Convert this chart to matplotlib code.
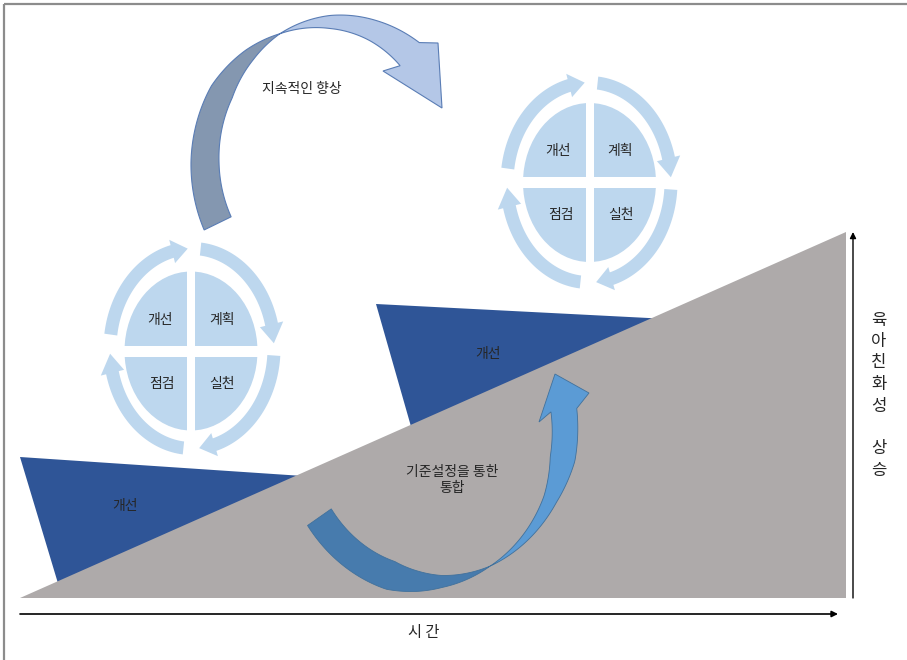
import numpy as np
import matplotlib
matplotlib.use("Agg")
import matplotlib.pyplot as plt
from matplotlib.patches import Polygon, Ellipse, Rectangle

plt.rcParams['font.family'] = ['Noto Sans CJK KR', 'DejaVu Sans']

# ---------------- content ----------------
pdca_labels = ["개선", "계획", "점검", "실천"]
wedge_label = "개선"
top_arrow_label = "지속적인 향상"
bottom_arrow_label = "기준설정을 통한\n통합"
x_axis_label = "시 간"
y_axis_chars = ["육", "아", "친", "화", "성", "", "상", "승"]

# ---------------- geometry (pixel space, y down) ----------------
W, H = 907, 660
ramp = [(20, 598), (846, 598), (846, 232)]
wedge1 = [(20, 457), (318, 477), (60, 590)]
wedge2 = [(376, 304), (668, 319), (412, 430)]

pdca_centers = [(191, 351), (589.5, 182.5)]
pdca_size = (133, 159)
ring_centers = [(192, 348.5), (589, 182.5)]
ring_r = (82, 100)
ring_spans = [(172, 93), (84, 3), (-4, -85), (-96, -177)]

# top curved arrow: ellipse centre line, angles (deg), widths
top_ell = (330, 162, 125, 140)
top_dark_t = [206, 180, 150, 130, 113.6]
top_dark_w = [30, 28, 24, 12, 0]
top_light_t = [113.6, 90, 70, 50.4]
top_light_w = [0, 13, 21, 30]
top_head = [(438, 43), (442, 108), (383, 71)]

# bottom curved arrow
bot_ell = (430, 430, 135, 152)
bot_dark_t = [-145, -107, -95, -85, -63.5]
bot_dark_w = [29, 29, 20, 12, 0]
bot_light_t = [-63.5, -27, -11, 7.5]
bot_light_w = [0, 14, 25, 26]
bot_head = [(589, 393), (555, 374), (539, 422)]

# colours
C_RAMP = "#AEAAAA"
C_WEDGE = "#2F5597"
C_PDCA = "#BDD7EE"
C_TOP_DARK = "#8497B0"
C_TOP_LIGHT = "#B4C7E7"
C_TOP_EDGE = "#5A7DB5"
C_BOT_DARK = "#477BAD"
C_BOT_LIGHT = "#5B9BD5"
C_BOT_EDGE = "#41719C"
C_TEXT = "#262626"


def ribbon(ell, tk, wk, head=None, n=80):
    cx, cy, rx, ry = ell
    ts = np.linspace(tk[0], tk[-1], n)
    order = np.argsort(tk)
    ws = np.interp(ts, np.array(tk)[order], np.array(wk)[order])
    tr = np.radians(ts)
    ox = cx + (rx + ws / 2) * np.cos(tr)
    oy = cy - (ry + ws / 2) * np.sin(tr)
    ix = cx + (rx - ws / 2) * np.cos(tr)
    iy = cy - (ry - ws / 2) * np.sin(tr)
    pts = list(zip(ox, oy))
    if head is not None:
        pts += list(head)
    pts += list(zip(ix[::-1], iy[::-1]))
    return pts


def ring_arrow(ax, cx, cy, rx, ry, t0, t1, w=13, hw=12, hlen=11, color=C_PDCA):
    tb = t1 + hlen
    ts = np.radians(np.linspace(t0, tb, 40))
    ox = cx + (rx + w / 2) * np.cos(ts)
    oy = cy - (ry + w / 2) * np.sin(ts)
    ix = cx + (rx - w / 2) * np.cos(ts)
    iy = cy - (ry - w / 2) * np.sin(ts)
    tbr, t1r = np.radians(tb), np.radians(t1)
    head = [(cx + (rx + hw) * np.cos(tbr), cy - (ry + hw) * np.sin(tbr)),
            (cx + rx * np.cos(t1r), cy - ry * np.sin(t1r)),
            (cx + (rx - hw) * np.cos(tbr), cy - (ry - hw) * np.sin(tbr))]
    pts = list(zip(ox, oy)) + head + list(zip(ix[::-1], iy[::-1]))
    ax.add_patch(Polygon(pts, closed=True, facecolor=color, edgecolor='none', zorder=3))


fig = plt.figure(figsize=(W / 100, H / 100), dpi=100)
ax = fig.add_axes([0, 0, 1, 1])
ax.set_xlim(0, W)
ax.set_ylim(H, 0)
ax.axis('off')

# frame (top and left)
ax.plot([4, W], [4, 4], color="#8C8C8C", lw=1.6, zorder=10, solid_capstyle='butt')
ax.plot([4, 4], [4, H], color="#8C8C8C", lw=1.6, zorder=10, solid_capstyle='butt')

# wedges + ramp
ax.add_patch(Polygon(wedge1, closed=True, facecolor=C_WEDGE, edgecolor='none', zorder=1))
ax.add_patch(Polygon(wedge2, closed=True, facecolor=C_WEDGE, edgecolor='none', zorder=1))
ax.add_patch(Polygon(ramp, closed=True, facecolor=C_RAMP, edgecolor='none', zorder=2))
ax.text(125, 506, wedge_label, ha='center', va='center', fontsize=10, color=C_TEXT, zorder=6)
ax.text(488, 354, wedge_label, ha='center', va='center', fontsize=10, color=C_TEXT, zorder=6)

# PDCA clusters
gap_v, gap_h = 8, 11
for (cx, cy), (rcx, rcy) in zip(pdca_centers, ring_centers):
    ax.add_patch(Ellipse((cx, cy), pdca_size[0], pdca_size[1], facecolor=C_PDCA,
                         edgecolor='none', zorder=3))
    ax.add_patch(Rectangle((cx - gap_v / 2, cy - 90), gap_v, 180, facecolor='white',
                           edgecolor='none', zorder=4))
    ax.add_patch(Rectangle((cx - 75, cy - gap_h / 2), 150, gap_h, facecolor='white',
                           edgecolor='none', zorder=4))
    offs = [(-31, -31), (31, -31), (-29, 33), (31, 33)]
    for lab, (dx, dy) in zip(pdca_labels, offs):
        ax.text(cx + dx, cy + dy, lab, ha='center', va='center', fontsize=10,
                color=C_TEXT, zorder=6)
    for t0, t1 in ring_spans:
        ring_arrow(ax, rcx, rcy, ring_r[0], ring_r[1], t0, t1)

# top curved arrow
ax.add_patch(Polygon(ribbon(top_ell, top_dark_t, top_dark_w), closed=True,
                     facecolor=C_TOP_DARK, edgecolor=C_TOP_EDGE, lw=0.8, zorder=4))
ax.add_patch(Polygon(ribbon(top_ell, top_light_t, top_light_w, top_head), closed=True,
                     facecolor=C_TOP_LIGHT, edgecolor=C_TOP_EDGE, lw=0.8, zorder=4))
ax.text(302, 89, top_arrow_label, ha='center', va='center', fontsize=10,
        color=C_TEXT, zorder=6)

# bottom curved arrow
ax.add_patch(Polygon(ribbon(bot_ell, bot_dark_t, bot_dark_w), closed=True,
                     facecolor=C_BOT_DARK, edgecolor=C_BOT_EDGE, lw=0.6, zorder=4))
ax.add_patch(Polygon(ribbon(bot_ell, bot_light_t, bot_light_w, bot_head), closed=True,
                     facecolor=C_BOT_LIGHT, edgecolor=C_BOT_EDGE, lw=0.6, zorder=4))
ax.text(452, 480, bottom_arrow_label, ha='center', va='center', fontsize=10,
        color=C_TEXT, zorder=6, linespacing=1.25)

# axes arrows
ax.annotate("", xy=(838, 614), xytext=(20, 614),
            arrowprops=dict(arrowstyle='-|>', color='black', lw=1.2,
                            mutation_scale=9, shrinkA=0, shrinkB=0), zorder=7)
ax.annotate("", xy=(853, 232), xytext=(853, 598),
            arrowprops=dict(arrowstyle='-|>', color='black', lw=1.0,
                            mutation_scale=9, shrinkA=0, shrinkB=0), zorder=7)
ax.text(424, 633, x_axis_label, ha='center', va='center', fontsize=11, color=C_TEXT)

y0, step = 320, 21.5
for i, ch in enumerate(y_axis_chars):
    if ch:
        ax.text(879, y0 + i * step, ch, ha='center', va='center', fontsize=12,
                color=C_TEXT)

fig.savefig("out.png", dpi=100)
